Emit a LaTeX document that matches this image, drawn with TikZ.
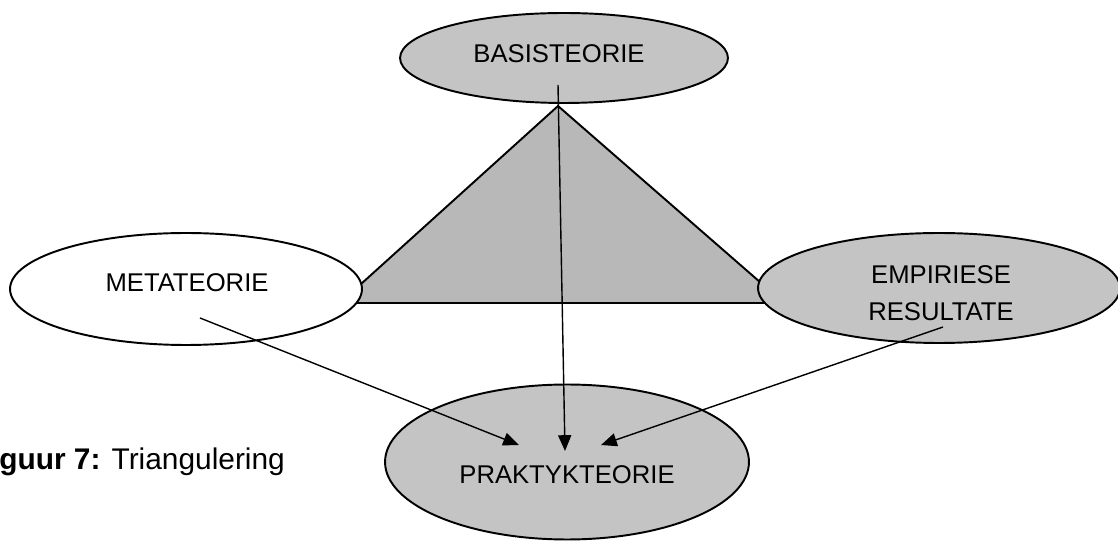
\documentclass[tikz,border=0pt]{standalone}
\usepackage{fontspec}
\setmainfont{Liberation Sans}
\usetikzlibrary{shapes.geometric,arrows.meta}
\definecolor{ovalgray}{RGB}{196,196,196}
\definecolor{trigray}{RGB}{184,184,184}
\begin{document}
\begin{tikzpicture}[x=0.02cm,y=-0.02cm,
  oval/.style={ellipse,draw,line width=1.1pt,fill=ovalgray,inner sep=0pt},
  lbl/.style={font=\fontsize{14.6}{21}\selectfont,align=center,inner sep=0pt},
  arr/.style={-{Triangle[length=9pt,width=7.5pt]},line width=0.8pt}]
\useasboundingbox(0,0)rectangle(1118,546);
% triangle behind the ovals
\draw[line width=1.1pt,fill=trigray,line join=miter](558,106)--(340,303)--(784,303)--cycle;
%
\node[oval,minimum width=6.56cm,minimum height=1.8cm](basis)at(564,58){};
\node[oval,fill=white,minimum width=7.04cm,minimum height=2.24cm](meta)at(186,289){};
\node[oval,minimum width=7.24cm,minimum height=2.2cm](emp)at(939,288){};
\node[oval,minimum width=7.28cm,minimum height=3.1cm](prak)at(567,462){};
\node[lbl](basistxt)at(559,54){BASISTEORIE};
\node[lbl](metatxt)at(187,283){METATEORIE};
\node[lbl](emptxt)at(941,293){EMPIRIESE\\RESULTATE};
\node[lbl](praktxt)at(567,475){PRAKTYKTEORIE};
%
\coordinate(b0)at(558,85);
\coordinate(m0)at(200,318);
\coordinate(e0)at(943,327);
\coordinate(p1)at(519,445);
\coordinate(p2)at(565,451);
\coordinate(p3)at(601,445);
\draw[arr](b0)--(p2);
\draw[arr](m0)--(p1);
\draw[arr](e0)--(p3);
%
\node[anchor=base west,inner sep=0pt,font=\fontsize{17}{20}\selectfont](cap)at(-1,470){\textbf{guur 7:} Triangulering};
\end{tikzpicture}
\end{document}
